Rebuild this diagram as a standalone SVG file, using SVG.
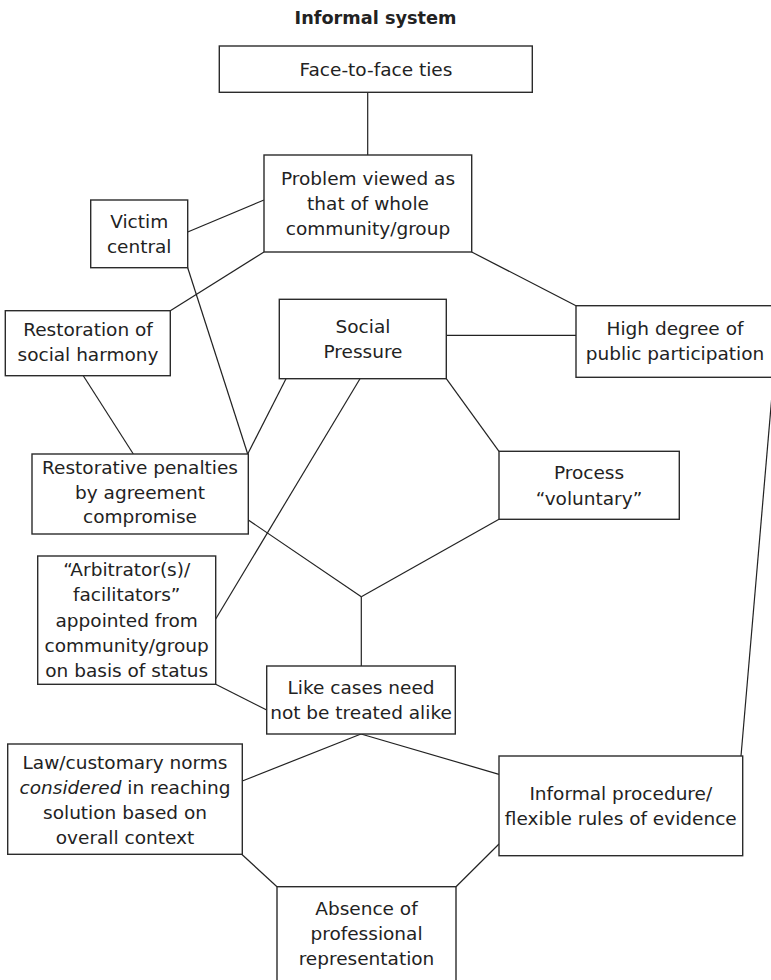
<svg xmlns="http://www.w3.org/2000/svg" width="771" height="980" viewBox="0 0 771 980">
<style>
.box{fill:#fff;stroke:#2b2b2b;stroke-width:1.4}
.t{font-family:"DejaVu Sans",Verdana,sans-serif;font-size:18.5px;fill:#222;text-anchor:middle}
.title{font-family:"DejaVu Sans",Verdana,sans-serif;font-size:17.7px;font-weight:bold;fill:#222;text-anchor:middle}
#connectors line{stroke:#222;stroke-width:1.2;fill:none}
</style>
<rect width="771" height="980" fill="#fff"/>
<text class="title" x="375.5" y="24">Informal system</text>
<g id="connectors">
<line x1="367.7" y1="92.3" x2="367.7" y2="155"/>
<line x1="187.7" y1="232" x2="264" y2="200"/>
<line x1="264" y1="252" x2="170.3" y2="310.7"/>
<line x1="187.7" y1="267.7" x2="247.7" y2="454"/>
<line x1="471.7" y1="252" x2="576" y2="305.7"/>
<line x1="446.3" y1="335.3" x2="576" y2="335.3"/>
<line x1="83.3" y1="375.7" x2="133.3" y2="454"/>
<line x1="286" y1="378.7" x2="247.7" y2="454"/>
<line x1="360" y1="378.7" x2="215.7" y2="619"/>
<line x1="446.3" y1="378.7" x2="499" y2="451.3"/>
<line x1="499" y1="519.3" x2="361.3" y2="596.7"/>
<line x1="248.3" y1="520" x2="361.3" y2="596.7"/>
<line x1="361.3" y1="596.7" x2="361.3" y2="666"/>
<line x1="215.7" y1="684.3" x2="266.7" y2="710"/>
<line x1="361" y1="734" x2="242.3" y2="781"/>
<line x1="361" y1="734" x2="499" y2="774.3"/>
<line x1="741" y1="756" x2="773.5" y2="377.3"/>
<line x1="241.7" y1="854.3" x2="277" y2="886.7"/>
<line x1="499" y1="844" x2="456" y2="886.7"/>
</g>
<g id="face">
<rect class="box" x="219.3" y="46" width="313" height="46.3"/>
<text class="t" x="376" y="76">Face-to-face ties</text>
</g>
<g id="problem">
<rect class="box" x="264" y="155" width="207.7" height="97"/>
<text class="t" x="368" y="185">Problem viewed as</text>
<text class="t" x="368" y="210">that of whole</text>
<text class="t" x="368" y="235">community/group</text>
</g>
<g id="victim">
<rect class="box" x="90.7" y="200" width="97" height="67.7"/>
<text class="t" x="139.2" y="228.3">Victim</text>
<text class="t" x="139.2" y="253.3">central</text>
</g>
<g id="restoration">
<rect class="box" x="5.3" y="310.7" width="165" height="65"/>
<text class="t" x="88" y="336">Restoration of</text>
<text class="t" x="88" y="361">social harmony</text>
</g>
<g id="social">
<rect class="box" x="279.3" y="299.3" width="167" height="79.4"/>
<text class="t" x="363" y="333">Social</text>
<text class="t" x="363" y="358">Pressure</text>
</g>
<g id="high">
<rect class="box" x="576" y="305.7" width="200" height="71.6"/>
<text class="t" x="675" y="335">High degree of</text>
<text class="t" x="675" y="360">public participation</text>
</g>
<g id="restorative">
<rect class="box" x="32" y="454" width="216.3" height="80"/>
<text class="t" x="140" y="474">Restorative penalties</text>
<text class="t" x="140" y="498.5">by agreement</text>
<text class="t" x="140" y="523.3">compromise</text>
</g>
<g id="process">
<rect class="box" x="499" y="451.3" width="180.3" height="68"/>
<text class="t" x="589" y="479.3">Process</text>
<text class="t" x="589" y="505">“voluntary”</text>
</g>
<g id="arbitrator">
<rect class="box" x="37.7" y="556" width="178" height="128.3"/>
<text class="t" x="126.7" y="575.5">“Arbitrator(s)/</text>
<text class="t" x="126.7" y="601">facilitators”</text>
<text class="t" x="126.7" y="626.5">appointed from</text>
<text class="t" x="126.7" y="652">community/group</text>
<text class="t" x="126.7" y="677">on basis of status</text>
</g>
<g id="like">
<rect class="box" x="266.7" y="666" width="188.6" height="68"/>
<text class="t" x="361" y="694">Like cases need</text>
<text class="t" x="361" y="719">not be treated alike</text>
</g>
<g id="law">
<rect class="box" x="7.7" y="744" width="234.6" height="110.3"/>
<text class="t" x="125" y="769">Law/customary norms</text>
<text class="t" x="125" y="794"><tspan font-style="italic">considered</tspan> in reaching</text>
<text class="t" x="125" y="819">solution based on</text>
<text class="t" x="125" y="843.5">overall context</text>
</g>
<g id="informal">
<rect class="box" x="499" y="756" width="243.7" height="99.7"/>
<text class="t" x="620.8" y="800">Informal procedure/</text>
<text class="t" x="620.8" y="825">flexible rules of evidence</text>
</g>
<g id="absence">
<rect class="box" x="277" y="886.7" width="179" height="100"/>
<text class="t" x="366.5" y="915">Absence of</text>
<text class="t" x="366.5" y="940">professional</text>
<text class="t" x="366.5" y="965">representation</text>
</g>
</svg>
